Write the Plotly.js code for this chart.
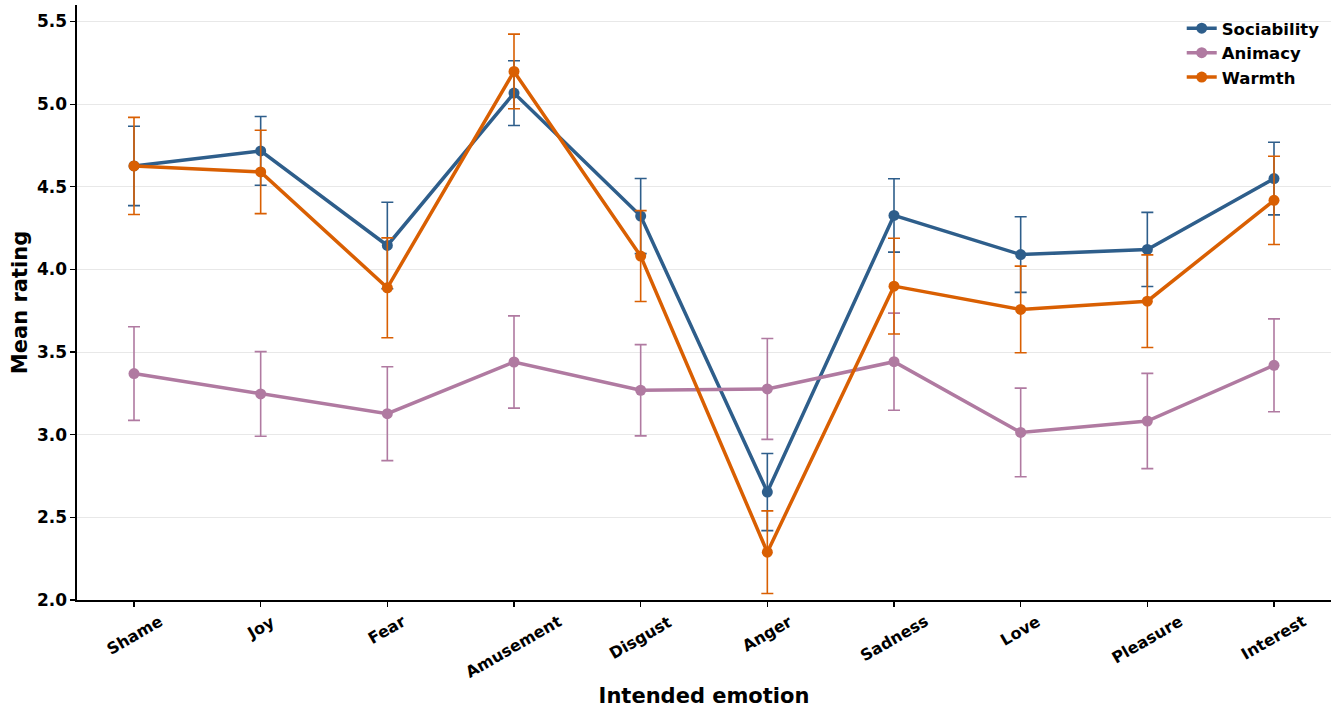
<!DOCTYPE html>
<html>
<head>
<meta charset="utf-8">
<script src="https://cdn.plot.ly/plotly-3.0.1.min.js"></script>
<style>html,body{margin:0;padding:0;background:#fff;}#chart{width:1340px;height:709px;}</style>
</head>
<body>
<div id="chart"></div>
<script>
const emotions = ["Shame","Joy","Fear","Amusement","Disgust","Anger","Sadness","Love","Pleasure","Interest"];

const sociability    = [4.626, 4.717, 4.145, 5.067, 4.323, 2.653, 4.327, 4.090, 4.121, 4.550];
const sociabilityErr = [0.240, 0.208, 0.262, 0.196, 0.227, 0.233, 0.222, 0.229, 0.224, 0.220];

const animacy    = [3.370, 3.247, 3.127, 3.440, 3.269, 3.277, 3.442, 3.014, 3.083, 3.420];
const animacyErr = [0.283, 0.256, 0.284, 0.279, 0.276, 0.305, 0.294, 0.268, 0.288, 0.281];

const warmth    = [4.626, 4.590, 3.889, 5.198, 4.081, 2.289, 3.899, 3.758, 3.808, 4.418];
const warmthErr = [0.294, 0.252, 0.302, 0.226, 0.275, 0.250, 0.290, 0.262, 0.280, 0.267];

const seriesNames = ["Sociability","Animacy","Warmth"];
const colors = ["#2e5e8b","#b07aa1","#d95f02"];

const yTicks = [2.0, 2.5, 3.0, 3.5, 4.0, 4.5, 5.0, 5.5];

const xIdx = emotions.map((_, i) => i);

function mk(name, y, err, color) {
  return {
    type: "scatter", mode: "lines+markers", name: name,
    x: xIdx, y: y,
    line: {color: color, width: 3.5},
    marker: {color: color, size: 11},
    error_y: {type: "data", array: err, visible: true, color: color, thickness: 1.6, width: 6}
  };
}

const data = [
  mk(seriesNames[0], sociability, sociabilityErr, colors[0]),
  mk(seriesNames[1], animacy, animacyErr, colors[1]),
  mk(seriesNames[2], warmth, warmthErr, colors[2])
];

const boldFont = (s) => ({family: "DejaVu Sans", size: s, color: "#000", weight: "bold"});

const tickAnnotations = emotions.map((e, i) => ({
  x: i, xref: "x", y: 0, yref: "paper",
  text: e, showarrow: false, textangle: -30,
  xanchor: "center", yanchor: "top", yshift: -9,
  font: boldFont(16)
}));

const layout = {
  width: 1340, height: 709,
  margin: {l: 77, r: 9, t: 5, b: 109},
  paper_bgcolor: "#fff", plot_bgcolor: "#fff",
  font: {family: "DejaVu Sans", color: "#000"},
  showlegend: true,
  legend: {
    x: 0.995, xanchor: "right", y: 0.99, yanchor: "top",
    bgcolor: "rgba(255,255,255,0)",
    font: boldFont(16.5),
    traceorder: "normal"
  },
  annotations: tickAnnotations,
  xaxis: {
    range: [-0.45, 9.45],
    tickmode: "array", tickvals: xIdx,
    showticklabels: false,
    ticks: "outside", ticklen: 5, tickwidth: 1.2, tickcolor: "#000",
    showline: true, linecolor: "#000", linewidth: 1.6,
    showgrid: false, zeroline: false,
    title: {text: "Intended emotion", font: boldFont(21), standoff: 82}
  },
  yaxis: {
    range: [2.0, 5.6],
    tickvals: yTicks,
    ticktext: yTicks.map(v => v.toFixed(1)),
    tickfont: boldFont(17),
    ticks: "outside", ticklen: 5, tickwidth: 1.2, tickcolor: "#000",
    showline: true, linecolor: "#000", linewidth: 1.6,
    showgrid: true, gridcolor: "#e8e8e8", gridwidth: 1,
    zeroline: false,
    title: {text: "Mean rating", font: boldFont(21), standoff: 3}
  }
};

Plotly.newPlot("chart", data, layout, {displayModeBar: false, staticPlot: true});
</script>
</body>
</html>
